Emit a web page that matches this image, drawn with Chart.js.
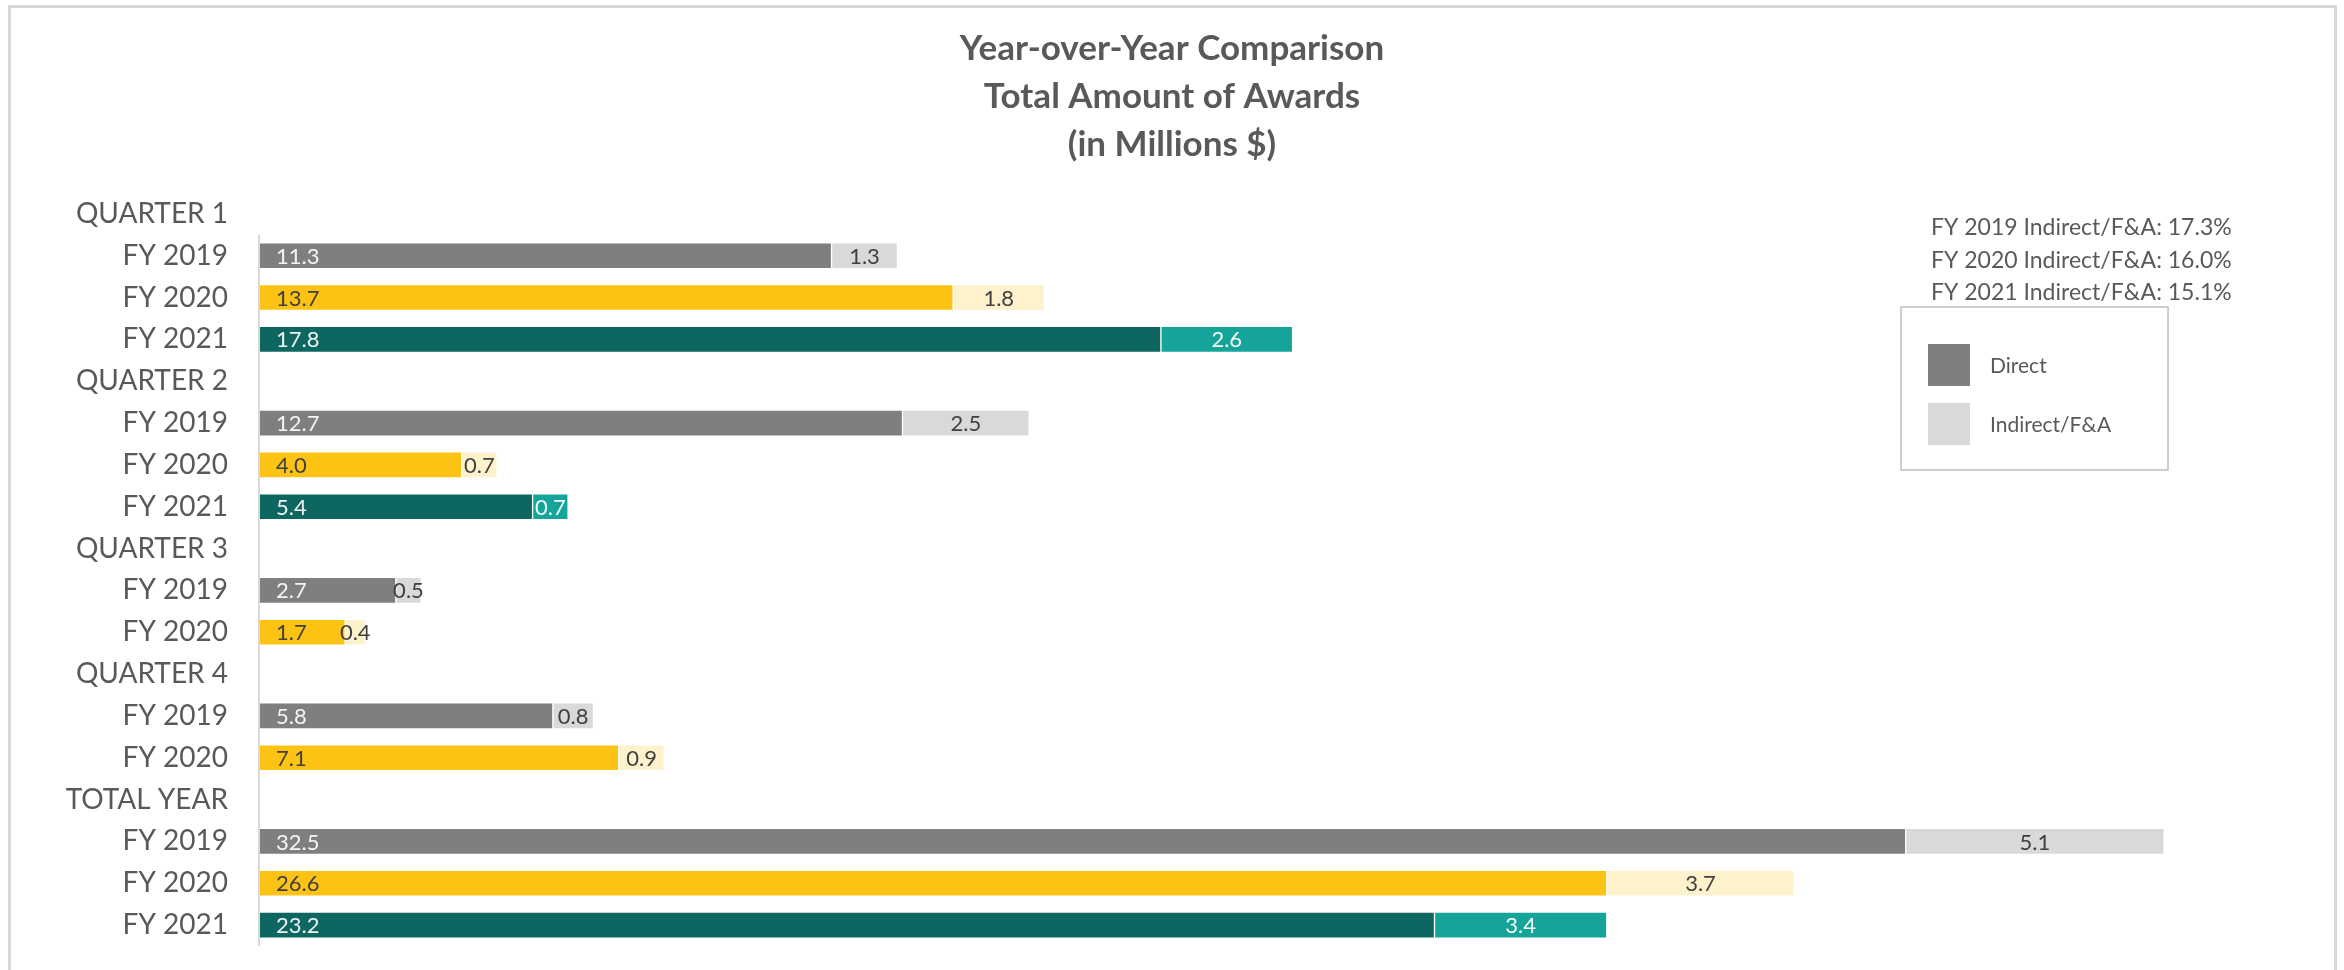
<!DOCTYPE html>
<html>
<head>
<meta charset="utf-8">
<title>Year-over-Year Comparison</title>
<script src="https://cdn.jsdelivr.net/npm/chart.js@4.4.1/dist/chart.umd.min.js"></script>
<style>
  body { margin: 0; background: #fff; overflow: hidden; }
  #wrap { position: relative; width: 2344px; height: 970px; }
  #frame { position: absolute; left: 8px; top: 5px; width: 2329px; height: 1000px; border: 3px solid #d9d9d9; box-sizing: border-box; }
  #awards-chart { position: absolute; left: 0; top: 0; }
</style>
</head>
<body>
<div id="wrap">
  <div id="frame"></div>
  <canvas id="awards-chart" width="2344" height="970"></canvas>
</div>
<script>
// rows of the chart, top to bottom (section headers have no bars)
const categories = [
  'QUARTER 1', 'FY 2019', 'FY 2020', 'FY 2021',
  'QUARTER 2', 'FY 2019', 'FY 2020', 'FY 2021',
  'QUARTER 3', 'FY 2019', 'FY 2020',
  'QUARTER 4', 'FY 2019', 'FY 2020',
  'TOTAL YEAR', 'FY 2019', 'FY 2020', 'FY 2021'
];
const directValues = [null, 11.3, 13.7, 17.8, null, 12.7, 4.0, 5.4, null, 2.7, 1.7, null, 5.8, 7.1, null, 32.5, 26.6, 23.2];
const indirectValues = [null, 1.3, 1.8, 2.6, null, 2.5, 0.7, 0.7, null, 0.5, 0.4, null, 0.8, 0.9, null, 5.1, 3.7, 3.4];

const rateYears = ['FY 2019', 'FY 2020', 'FY 2021'];
const indirectRates = [17.3, 16.0, 15.1];
const seriesNames = ['Direct', 'Indirect/F&A'];
const titleLines = ['Year-over-Year Comparison', 'Total Amount of Awards', '(in Millions $)'];

document.addEventListener('DOMContentLoaded', function () {

    /*** ======== Colours ======== ***/
    const barColors = [
        { '2019': '#7f7f7f', '2020': '#fcc314', '2021': '#0d665f' },
        { '2019': '#d9d9d9', '2020': '#fef2cd', '2021': '#14a499' }
    ];
    const labelColors = [
        { '2019': '#f4f4f4', '2020': '#404040', '2021': '#eef5f4' },
        { '2019': '#404040', '2020': '#404040', '2021': '#f4fbfa' }
    ];
    const textColor = '#595959';

    function yearOf(label) {
        return label.startsWith('FY') ? label.slice(3) : '2019';
    }

    /*** ======== Value labels on the bars ======== ***/
    const barLabels = {
        id: 'barLabels',
        afterDatasetsDraw(chart) {
            const ctx = chart.ctx;
            ctx.save();
            ctx.font = '22px Lato';
            ctx.textBaseline = 'middle';
            chart.data.datasets.forEach((ds, di) => {
                const meta = chart.getDatasetMeta(di);
                meta.data.forEach((bar, i) => {
                    const v = ds.data[i];
                    if (v === null) return;
                    ctx.fillStyle = labelColors[di][yearOf(categories[i])];
                    if (di === 0) {
                        ctx.textAlign = 'left';
                        ctx.fillText(v.toFixed(1), bar.base + 17, bar.y + 1);
                    } else {
                        ctx.textAlign = 'center';
                        ctx.fillText(v.toFixed(1), (bar.base + bar.x) / 2, bar.y + 1);
                    }
                });
            });
            ctx.restore();
        }
    };

    /*** ======== Axis line, notes and legend box ======== ***/
    const extras = {
        id: 'extras',
        afterDraw(chart) {
            const ctx = chart.ctx;
            const area = chart.chartArea;
            const yScale = chart.scales.y;
            const step = yScale.getPixelForValue(1) - yScale.getPixelForValue(0);

            ctx.save();
            // vertical axis line starts under the first header row
            ctx.strokeStyle = '#d9d9d9';
            ctx.lineWidth = 2;
            ctx.beginPath();
            ctx.moveTo(area.left, yScale.getPixelForValue(1) - step / 2);
            ctx.lineTo(area.left, area.bottom);
            ctx.stroke();

            // indirect rate notes
            ctx.fillStyle = textColor;
            ctx.font = '23px Lato';
            ctx.textAlign = 'left';
            ctx.textBaseline = 'middle';
            rateYears.forEach((y, i) => {
                ctx.fillText(`${y} Indirect/F&A: ${indirectRates[i].toFixed(1)}%`, 1931, 228 + i * 32.5);
            });

            // legend box
            ctx.strokeStyle = '#bfbfbf';
            ctx.lineWidth = 1.5;
            ctx.fillStyle = '#ffffff';
            ctx.fillRect(1901, 307, 267, 163);
            ctx.strokeRect(1901, 307, 267, 163);

            ctx.font = '21px Lato';
            const swatch = [barColors[0]['2019'], barColors[1]['2019']];
            seriesNames.forEach((name, i) => {
                const top = 344 + i * 59;
                ctx.fillStyle = swatch[i];
                ctx.fillRect(1928, top, 42, 42);
                ctx.fillStyle = textColor;
                ctx.fillText(name, 1990, top + 22);
            });
            ctx.restore();
        }
    };

    /*** ======== Chart ======== ***/
    const ctx = document.getElementById('awards-chart').getContext('2d');
    new Chart(ctx, {
        type: 'bar',
        data: {
            labels: categories,
            datasets: [
                {
                    label: seriesNames[0],
                    data: directValues,
                    backgroundColor: categories.map(c => barColors[0][yearOf(c)]),
                    borderColor: '#ffffff',
                    borderWidth: 1,
                    borderSkipped: false,
                    barThickness: 26
                },
                {
                    label: seriesNames[1],
                    data: indirectValues,
                    backgroundColor: categories.map(c => barColors[1][yearOf(c)]),
                    borderColor: '#ffffff',
                    borderWidth: 1,
                    borderSkipped: false,
                    barThickness: 26
                }
            ]
        },
        options: {
            indexAxis: 'y',
            responsive: false,
            animation: false,
            layout: { padding: { left: 0, right: 0, top: 0, bottom: 24 } },
            scales: {
                x: { stacked: true, min: 0, max: 41.15, display: false },
                y: {
                    stacked: true,
                    grid: { display: false, drawTicks: false },
                    border: { display: false },
                    ticks: {
                        autoSkip: false,
                        padding: 31,
                        color: textColor,
                        font: { family: 'Lato', size: 28 }
                    },
                    afterFit(scale) {
                        scale.width = 259;
                        scale.paddingTop = 0;
                        scale.paddingBottom = 0;
                    }
                }
            },
            plugins: {
                legend: { display: false },
                tooltip: { enabled: false },
                title: {
                    display: true,
                    text: titleLines,
                    color: textColor,
                    font: { family: 'Lato', size: 35, weight: 'bold', lineHeight: 1.371 },
                    padding: { top: 25, bottom: 24 }
                }
            }
        },
        plugins: [barLabels, extras]
    });

});
</script>
</body>
</html>
